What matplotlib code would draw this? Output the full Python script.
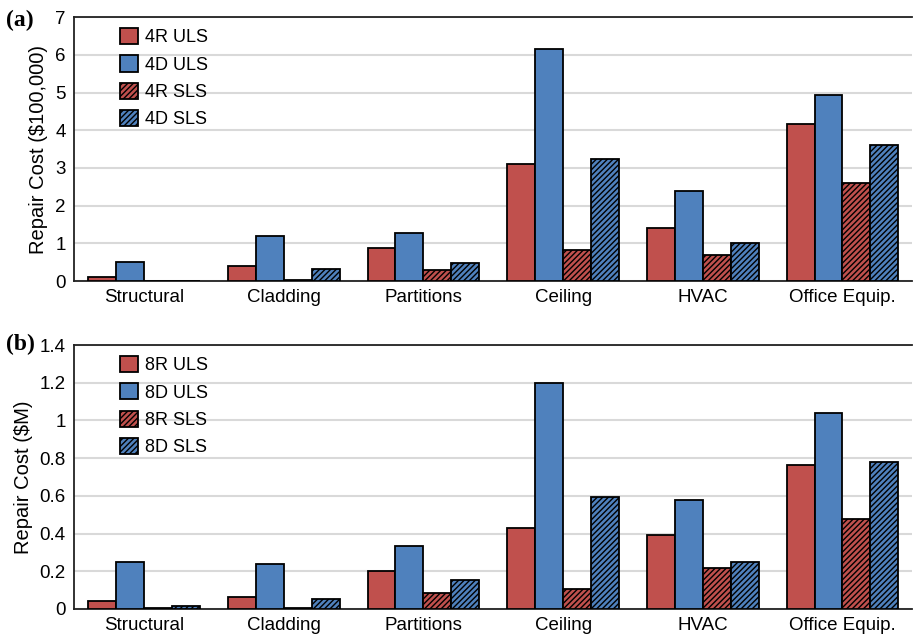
import matplotlib.pyplot as plt
import numpy as np

plt.rcParams['font.family'] = ['Liberation Sans', 'DejaVu Sans']
plt.rcParams['hatch.linewidth'] = 1.0

categories = ['Structural', 'Cladding', 'Partitions', 'Ceiling', 'HVAC', 'Office Equip.']

# (a) 4-storey, $100,000
r4_uls = [0.10, 0.40, 0.88, 3.11, 1.40, 4.17]
d4_uls = [0.52, 1.20, 1.28, 6.15, 2.40, 4.94]
r4_sls = [0.01, 0.03, 0.30, 0.82, 0.68, 2.60]
d4_sls = [0.01, 0.32, 0.47, 3.25, 1.00, 3.62]

# (b) 8-storey, $M
r8_uls = [0.04, 0.065, 0.20, 0.43, 0.393, 0.763]
d8_uls = [0.25, 0.238, 0.335, 1.20, 0.579, 1.041]
r8_sls = [0.003, 0.003, 0.085, 0.105, 0.216, 0.479]
d8_sls = [0.015, 0.055, 0.155, 0.594, 0.251, 0.777]

red = '#C0504D'
blue = '#4F81BD'

fig = plt.figure(figsize=(9.16, 6.36), dpi=100)
ax1 = fig.add_axes([0.081, 0.558, 0.915, 0.415])
ax2 = fig.add_axes([0.081, 0.0425, 0.915, 0.415])


def draw(ax, series, labels, ymax, ystep, ylabel):
    x = np.arange(len(categories))
    w = 0.2
    styles = [(red, ''), (blue, ''), (red, '//////'), (blue, '//////')]
    for i, (vals, lab, (c, h)) in enumerate(zip(series, labels, styles)):
        ax.bar(x + (i - 1.5) * w, vals, w, color=c, edgecolor='black',
               linewidth=1.3, hatch=h, label=lab, zorder=3)
    ax.set_xlim(-0.5, len(categories) - 0.5)
    ax.set_ylim(0, ymax)
    ticks = np.arange(0, ymax + ystep / 2, ystep)
    ax.set_yticks(ticks)
    ax.set_yticklabels(['%g' % t for t in ticks])
    ax.set_xticks(x)
    ax.set_xticklabels(categories)
    ax.tick_params(length=0, labelsize=13.5)
    ax.tick_params(axis='y', pad=6)
    ax.tick_params(axis='x', pad=6)
    ax.yaxis.grid(True, color='#D9D9D9', linewidth=1.5, zorder=0)
    ax.set_axisbelow(True)
    ax.spines['right'].set_visible(False)
    for s in ['top', 'bottom', 'left']:
        ax.spines[s].set_linewidth(1.3)
        ax.spines[s].set_color('#222222')
    ax.set_ylabel(ylabel, fontsize=14.5, labelpad=5)
    ax.legend(loc='upper left', bbox_to_anchor=(0.035, 1.02), frameon=False,
              fontsize=13, handlelength=1.0, handleheight=1.0,
              labelspacing=0.5, handletextpad=0.4)


draw(ax1, [r4_uls, d4_uls, r4_sls, d4_sls],
     ['4R ULS', '4D ULS', '4R SLS', '4D SLS'], 7, 1, 'Repair Cost ($100,000)')
draw(ax2, [r8_uls, d8_uls, r8_sls, d8_sls],
     ['8R ULS', '8D ULS', '8R SLS', '8D SLS'], 1.4, 0.2, 'Repair Cost ($M)')

fig.text(0.007, 0.968, '(a)', fontsize=17, fontweight='bold',
         family=['Liberation Serif', 'DejaVu Serif'], va='center')
fig.text(0.007, 0.458, '(b)', fontsize=17, fontweight='bold',
         family=['Liberation Serif', 'DejaVu Serif'], va='center')

fig.savefig('out.png', dpi=100)
